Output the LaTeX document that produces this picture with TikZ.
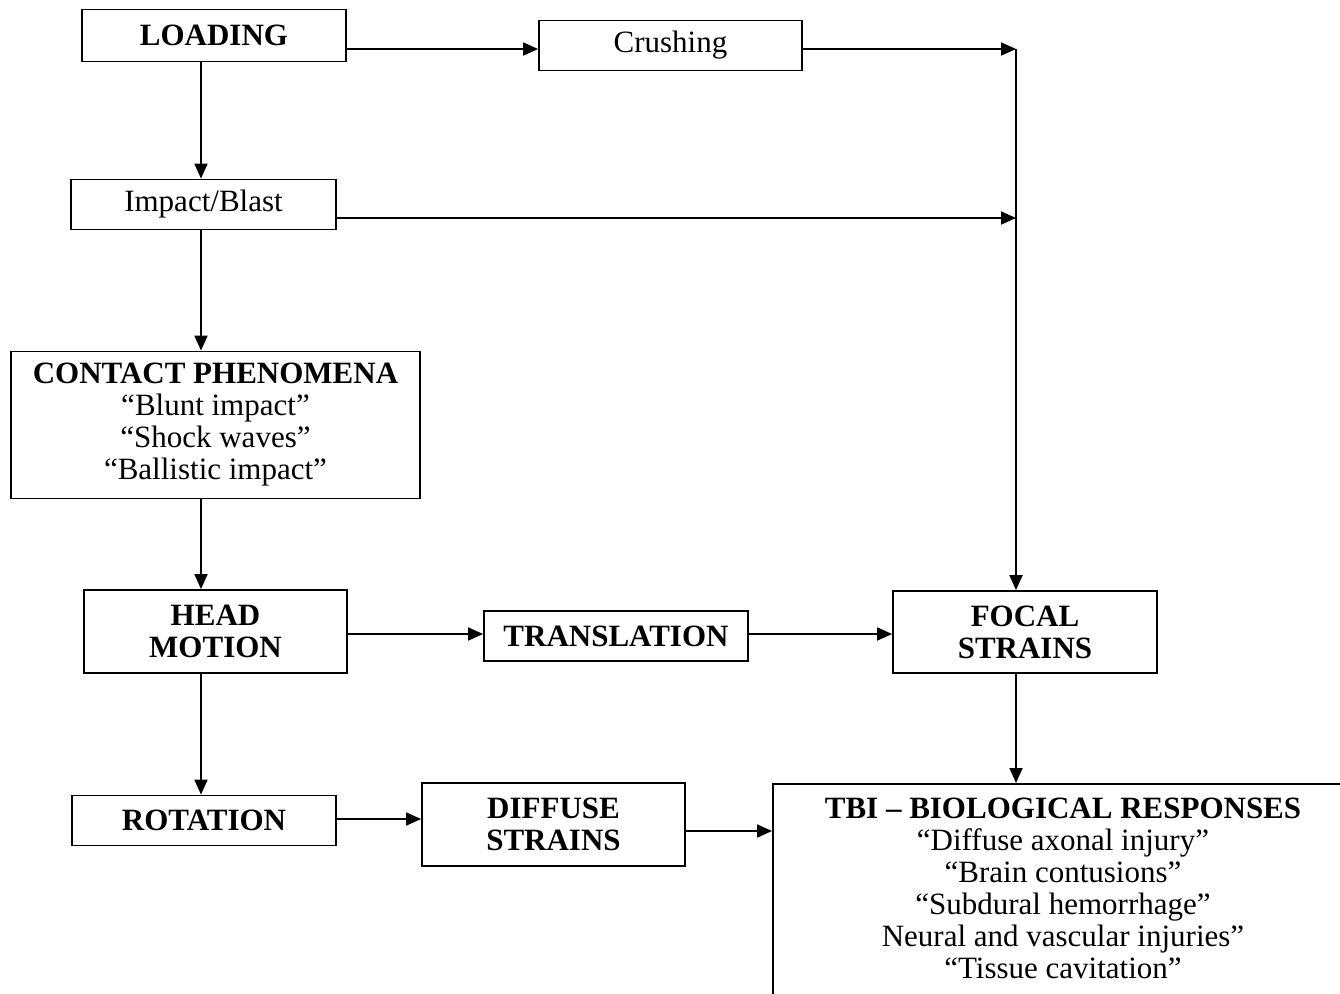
\documentclass[tikz,border=0pt]{standalone}
\usepackage{fontspec}
\setmainfont{Liberation Serif}
\usetikzlibrary{arrows.meta,calc}
\begin{document}
\begin{tikzpicture}[x=0.5pt,y=-0.5pt,
  box/.style={draw, line width=0.9pt, inner sep=0pt, align=center, font=\fontsize{15.5}{16}\selectfont},
  bbox/.style={box, font=\fontsize{15.5}{16}\selectfont\bfseries},
  arr/.style={line width=0.9pt, -{Triangle[length=7.5pt,width=6.5pt]}},
  ln/.style={line width=0.9pt}]
\useasboundingbox (0,0) rectangle (1340,993);
\clip (0,0) rectangle (1340,993);
% nodes
\node[bbox, minimum width=132pt, minimum height=26pt] (load) at (214,35.5) {LOADING};
\node[box, minimum width=131.5pt, minimum height=25pt] (crush) at (670.5,45.5) {Crushing};
\node[box, minimum width=132.5pt, minimum height=25pt] (impact) at (203.5,204.5) {Impact/Blast};
\node[box, minimum width=204.5pt, minimum height=73.5pt] (contact) at (215.5,425)
  {\textbf{CONTACT PHENOMENA}\\“Blunt impact”\\“Shock waves”\\“Ballistic impact”};
\node[bbox, minimum width=131.5pt, minimum height=41.5pt] (head) at (215.5,631.5) {HEAD\\MOTION};
\node[bbox, minimum width=132pt, minimum height=25pt] (trans) at (616,636) {TRANSLATION};
\node[bbox, minimum width=132pt, minimum height=41pt] (focal) at (1025,632) {FOCAL\\STRAINS};
\node[bbox, minimum width=132pt, minimum height=25pt] (rot) at (204,820.5) {ROTATION};
\node[bbox, minimum width=131.5pt, minimum height=41.5pt] (diff) at (553.5,824.5) {DIFFUSE\\STRAINS};
\node[draw, line width=0.9pt, inner sep=0pt, minimum width=291pt, minimum height=150pt, anchor=north west] (tbi) at (772,783) {};
\node[anchor=north, inner sep=0pt, align=center, font=\fontsize{15.5}{16}\selectfont] (tbitext) at (1063,798)
  {\textbf{TBI – BIOLOGICAL RESPONSES}\\“Diffuse axonal injury”\\“Brain contusions”\\“Subdural hemorrhage”\\Neural and vascular injuries”\\“Tissue cavitation”};
% helper coordinates
\coordinate (v1) at (201,0);
\coordinate (v2) at (1016,0);
\coordinate (h1) at (0,49);
\coordinate (h2) at (0,218);
\coordinate (j1) at (1016,49);
\coordinate (j2) at (1016,218);
\coordinate (h3) at (0,634);
\coordinate (h4) at (0,819);
\coordinate (h5) at (0,831);
% connectors
\draw[arr] (load.east |- h1) -- (crush.west |- h1);
\draw[arr] (crush.east |- h1) -- (j1);
\draw[arr] (impact.east |- h2) -- (j2);
\draw[arr] (j1) -- (focal.north -| v2);
\draw[arr] (load.south -| v1) -- (impact.north -| v1);
\draw[arr] (impact.south -| v1) -- (contact.north -| v1);
\draw[arr] (contact.south -| v1) -- (head.north -| v1);
\draw[arr] (head.east |- h3) -- (trans.west |- h3);
\draw[arr] (trans.east |- h3) -- (focal.west |- h3);
\draw[arr] (head.south -| v1) -- (rot.north -| v1);
\draw[arr] (rot.east |- h4) -- (diff.west |- h4);
\draw[arr] (diff.east |- h5) -- (tbi.west |- h5);
\draw[arr] (focal.south -| v2) -- (tbi.north -| v2);
\end{tikzpicture}
\end{document}
